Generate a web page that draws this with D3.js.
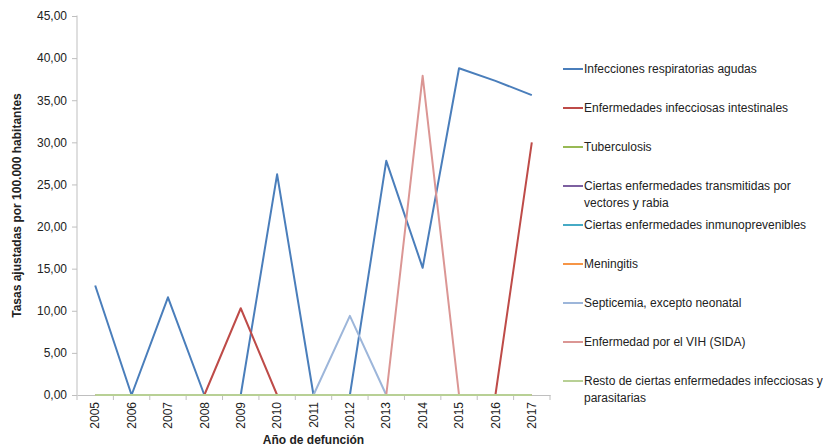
<!DOCTYPE html>
<html>
<head>
<meta charset="utf-8">
<script src="https://cdn.jsdelivr.net/npm/d3@7"></script>
<style>
  body { margin: 0; background: white; }
  text { font-family: "Liberation Sans", Arial, sans-serif; fill: #222; }
</style>
</head>
<body>
<svg id="graph"></svg>
<script>
var years = ["2005","2006","2007","2008","2009","2010","2011","2012","2013","2014","2015","2016","2017"];
var seriesNames = [
  "Infecciones respiratorias agudas",
  "Enfermedades infecciosas intestinales",
  "Tuberculosis",
  "Ciertas enfermedades transmitidas por vectores y rabia",
  "Ciertas enfermedades inmunoprevenibles",
  "Meningitis",
  "Septicemia, excepto neonatal",
  "Enfermedad por el VIH (SIDA)",
  "Resto de ciertas enfermedades infecciosas y parasitarias"
];
var legendLabels = [
  ["Infecciones respiratorias agudas"],
  ["Enfermedades infecciosas intestinales"],
  ["Tuberculosis"],
  ["Ciertas enfermedades transmitidas por", "vectores y rabia"],
  ["Ciertas enfermedades inmunoprevenibles"],
  ["Meningitis"],
  ["Septicemia, excepto neonatal"],
  ["Enfermedad por el VIH (SIDA)"],
  ["Resto de ciertas enfermedades infecciosas y", "parasitarias"]
];
var respiratorias = [13.0, 0, 11.6, 0, 0, 26.2, 0, 0, 27.8, 15.1, 38.8, 37.3, 35.6];
var intestinales  = [0, 0, 0, 0, 10.3, 0, 0, 0, 0, 0, 0, 0, 30.0];
var tuberculosis  = [0, 0, 0, 0, 0, 0, 0, 0, 0, 0, 0, 0, 0];
var vectores      = [0, 0, 0, 0, 0, 0, 0, 0, 0, 0, 0, 0, 0];
var inmunoprev    = [0, 0, 0, 0, 0, 0, 0, 0, 0, 0, 0, 0, 0];
var meningitis    = [0, 0, 0, 0, 0, 0, 0, 0, 0, 0, 0, 0, 0];
var septicemia    = [0, 0, 0, 0, 0, 0, 0, 9.4, 0, 0, 0, 0, 0];
var vih           = [0, 0, 0, 0, 0, 0, 0, 0, 0, 37.9, 0, 0, 0];
var resto         = [0, 0, 0, 0, 0, 0, 0, 0, 0, 0, 0, 0, 0];
var yTicks = [0, 5, 10, 15, 20, 25, 30, 35, 40, 45];

var allSeries = [respiratorias, intestinales, tuberculosis, vectores, inmunoprev,
                 meningitis, septicemia, vih, resto];
var colors = ["#4A7EBB", "#BE4B48", "#98B954", "#7D60A0", "#46AAC5",
              "#F69546", "#9DB6DA", "#DB9694", "#B8D095"];

var screen = { width: 823, height: 448 };
var margins = { top: 16, left: 77, right: 273, bottom: 53 };
var graphWidth = screen.width - margins.left - margins.right;
var graphHeight = screen.height - margins.top - margins.bottom;

var svg = d3.select("#graph")
  .attr("width", screen.width)
  .attr("height", screen.height);

var xScale = d3.scaleBand()
  .domain(years)
  .range([margins.left, margins.left + graphWidth]);

var yScale = d3.scaleLinear()
  .domain([0, 45])
  .range([margins.top + graphHeight, margins.top]);

var fmt = function(v) { return d3.format(".2f")(v).replace(".", ","); };

// y axis
var yAxis = svg.append("g")
  .attr("transform", "translate(" + margins.left + ",0)")
  .call(d3.axisLeft(yScale).tickValues(yTicks).tickFormat(fmt).tickSize(5).tickPadding(5));
yAxis.selectAll("text").attr("font-size", 12).style("font-family", "Liberation Sans, Arial, sans-serif").attr("fill", "#222");
yAxis.selectAll("line").attr("stroke", "#BFBFBF");
yAxis.select(".domain").attr("stroke", "#BFBFBF").attr("d", "M0," + (margins.top - 0.5) + "V" + (margins.top + graphHeight + 5));

// x axis
var xAxis = svg.append("g")
  .attr("transform", "translate(0," + (margins.top + graphHeight) + ")")
  .call(d3.axisBottom(xScale).tickSize(0).tickPadding(8));
xAxis.select(".domain").attr("stroke", "#BFBFBF");
xAxis.selectAll("text")
  .attr("font-size", 12)
  .style("font-family", "Liberation Sans, Arial, sans-serif")
  .attr("fill", "#222")
  .attr("transform", "rotate(-90)")
  .attr("text-anchor", "end")
  .attr("x", -7)
  .attr("y", 0)
  .attr("dy", "0.35em");

// x tick marks between categories
var bounds = years.map(function(y) { return xScale(y); }).concat([margins.left + graphWidth]);
xAxis.selectAll(".sep")
  .data(bounds.slice(1))
  .enter()
  .append("line")
  .attr("x1", function(d) { return d; })
  .attr("x2", function(d) { return d; })
  .attr("y1", 0)
  .attr("y2", 5)
  .attr("stroke", "#BFBFBF");

// lines
var line = d3.line()
  .x(function(d, i) { return xScale(years[i]) + xScale.bandwidth() / 2; })
  .y(function(d) { return yScale(d); });

svg.append("g")
  .selectAll("path")
  .data(allSeries)
  .enter()
  .append("path")
  .attr("d", line)
  .attr("fill", "none")
  .attr("stroke", function(d, i) { return colors[i]; })
  .attr("stroke-width", 2)
  .attr("stroke-linejoin", "round");

// axis titles
svg.append("text")
  .attr("transform", "translate(21," + (margins.top + graphHeight / 2) + ") rotate(-90)")
  .attr("text-anchor", "middle")
  .attr("font-size", 12)
  .attr("font-weight", "bold")
  .text("Tasas ajustadas por 100.000 habitantes");

svg.append("text")
  .attr("x", margins.left + graphWidth / 2)
  .attr("y", 444)
  .attr("text-anchor", "middle")
  .attr("font-size", 12)
  .attr("font-weight", "bold")
  .text("Año de defunción");

// legend
var legend = svg.append("g").attr("transform", "translate(563,0)");
var items = legend.selectAll("g")
  .data(legendLabels)
  .enter()
  .append("g")
  .attr("transform", function(d, i) { return "translate(0," + (69 + i * 39) + ")"; });

items.append("line")
  .attr("x1", 0).attr("x2", 20)
  .attr("y1", 0).attr("y2", 0)
  .attr("stroke", function(d, i) { return colors[i]; })
  .attr("stroke-width", 2);

items.append("text")
  .attr("x", 21)
  .attr("y", 0)
  .attr("font-size", 12)
  .selectAll("tspan")
  .data(function(d) { return d; })
  .enter()
  .append("tspan")
  .attr("x", 21)
  .attr("dy", function(d, i) { return i === 0 ? "0.35em" : "1.4em"; })
  .text(function(d) { return d; });
</script>
</body>
</html>
